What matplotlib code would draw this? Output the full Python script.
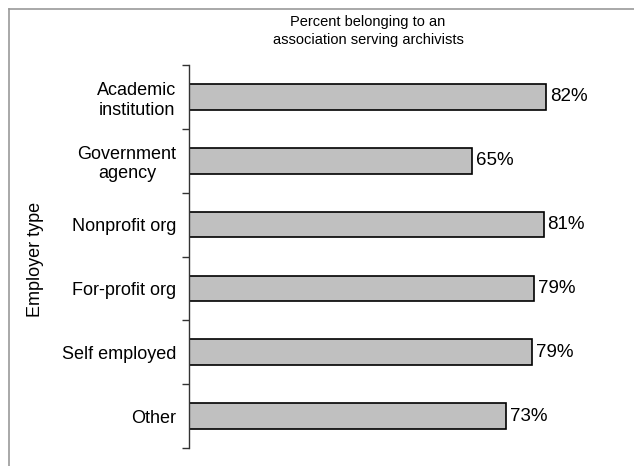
import matplotlib
matplotlib.use("Agg")
import matplotlib.pyplot as plt
from matplotlib.lines import Line2D

categories = ["Academic\ninstitution", "Government\nagency", "Nonprofit org",
              "For-profit org", "Self employed", "Other"]
values = [82.1, 65.0, 81.5, 79.4, 78.8, 72.9]
labels = ["82%", "65%", "81%", "79%", "79%", "73%"]

plt.rcParams['font.family'] = ['Liberation Sans', 'DejaVu Sans']

W, H = 634, 466
fig = plt.figure(figsize=(W / 100, H / 100), dpi=100)
ax = fig.add_axes([189 / W, 1 - 448 / H, 435 / W, (448 - 65) / H])

y = list(range(len(categories)))
ax.barh(y, values, height=0.4, color="#c0c0c0", edgecolor="black", linewidth=1.2)
ax.set_ylim(len(categories) - 0.5, -0.5)
ax.set_xlim(0, 100)

for yi, v, lab in zip(y, values, labels):
    ax.text(v + 0.9, yi, lab, va="center", ha="left", fontsize=13.5)

ax.set_yticks(y)
ax.set_yticklabels(categories, fontsize=13, multialignment="center")
ax.tick_params(axis="y", which="major", length=0, pad=9)
ax.set_yticks([i - 0.5 for i in range(len(categories) + 1)], minor=True)
ax.tick_params(axis="y", which="minor", length=5, width=1, color="#333333")
ax.set_xticks([])
for s in ["top", "right", "bottom"]:
    ax.spines[s].set_visible(False)
ax.spines["left"].set_linewidth(1)
ax.spines["left"].set_color("#333333")

fig.text(368 / W, 1 - 31 / H, "Percent belonging to an\nassociation serving archivists",
         ha="center", va="center", fontsize=10.5, linespacing=1.4)
fig.text(36 / W, 1 - 259 / H, "Employer type", rotation=90, ha="center", va="center",
         fontsize=13)

fig.add_artist(Line2D([8.5 / W, 8.5 / W], [0, 1 - 8.5 / H], transform=fig.transFigure,
                      color="#999999", linewidth=1.2))
fig.add_artist(Line2D([8.5 / W, 1], [1 - 8.5 / H, 1 - 8.5 / H], transform=fig.transFigure,
                      color="#999999", linewidth=1.2))

fig.savefig("out.png", dpi=100)
